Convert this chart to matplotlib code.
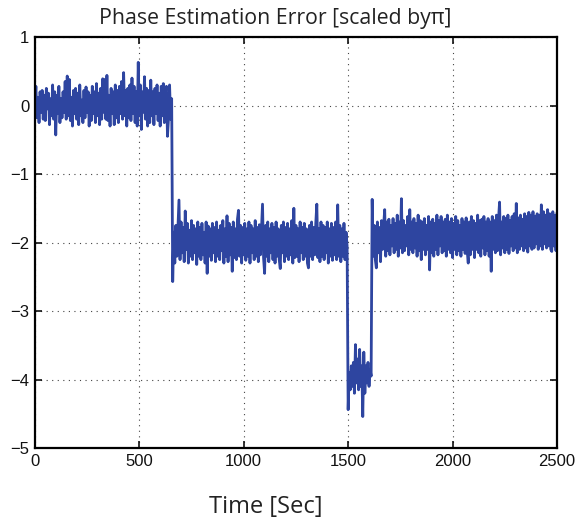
import numpy as np
import matplotlib
matplotlib.use('Agg')
import matplotlib.pyplot as plt

# phase error samples (every 5 sec)
seg_a = [0.05, 0.28, -0.18, 0.12, -0.25, 0.2, -0.1, 0.22, -0.2, 0.15,
         -0.22, 0.25, -0.05, 0.18, -0.28, 0.1, -0.15, 0.3, -0.2, 0.2,
         -0.43, 0.15, -0.12, 0.28, -0.25, 0.1, -0.18, 0.2, -0.1, 0.35,
         -0.2, 0.43, -0.15, 0.38, -0.22, 0.12, -0.3, 0.22, -0.12, 0.25,
         -0.2, 0.18, -0.28, 0.3, -0.15, 0.08, -0.25, 0.22, -0.18, 0.27,
         -0.1, 0.2, -0.3, 0.15, -0.22, 0.28, -0.12, 0.2, -0.25, 0.32,
         -0.15, 0.18, -0.28, 0.25, -0.2, 0.39, -0.1, 0.38, -0.2, 0.44,
         -0.22, 0.15, -0.3, 0.25, -0.12, 0.2, -0.28, 0.3, -0.18, 0.22,
         -0.25, 0.28, -0.12, 0.35, -0.2, 0.48, -0.15, 0.22, -0.3, 0.25,
         -0.18, 0.3, -0.22, 0.4, -0.12, 0.28, -0.25, 0.2, -0.3, 0.63,
         -0.15, 0.3, -0.35, 0.2, -0.1, 0.42, -0.2, 0.25, -0.3, 0.22,
         -0.25, 0.37, -0.15, 0.2, -0.28, 0.25, -0.12, 0.3, -0.22, 0.18,
         -0.3, 0.28, -0.15, 0.32, -0.25, 0.2, 0.28, -0.45, -0.18, 0.3, -0.2, 0.1]

seg_b = [-2.57, -1.85, -2.3, -1.75, -2.2, -1.8, -1.38, -2.25, -1.7, -2.15,
         -1.78, -2.28, -1.54, -2.1, -1.72, -2.3, -1.82, -2.2, -1.68, -2.25,
         -1.75, -2.15, -1.8, -2.32, -1.7, -2.2, -1.78, -2.25, -1.72, -2.18,
         -1.85, -2.3, -1.7, -2.45, -1.76, -2.2, -1.8, -2.26, -1.72, -2.15,
         -1.78, -2.28, -1.7, -2.2, -1.82, -2.25, -1.75, -2.12, -1.68, -2.3,
         -1.8, -2.2, -1.61, -2.28, -1.72, -2.18, -1.78, -2.42, -1.7, -2.22,
         -1.8, -2.25, -1.66, -1.53, -2.2, -1.75, -2.3, -1.78, -2.18, -1.72,
         -2.26, -1.8, -2.2, -1.7, -2.3, -1.75, -2.15, -1.8, -2.25, -1.68,
         -2.2, -1.78, -2.28, -1.74, -2.18, -1.8, -1.44, -2.22, -2.45, -1.75,
         -2.2, -1.7, -2.28, -1.8, -2.15, -1.72, -2.25, -1.78, -2.3, -1.7,
         -2.2, -1.8, -2.25, -2.38, -1.75, -2.15, -1.7, -2.28, -1.78, -2.2,
         -1.72, -2.25, -1.8, -2.18, -1.68, -2.3, -1.5, -2.22, -1.75, -2.2,
         -1.8, -2.28, -1.7, -2.15, -1.78, -2.25, -1.72, -2.2, -1.8, -2.3,
         -2.37, -1.75, -2.2, -1.7, -2.25, -1.78, -2.18, -1.72, -1.44, -2.22,
         -1.8, -2.28, -1.7, -2.2, -1.75, -2.25, -1.78, -2.15, -1.7, -2.3,
         -1.8, -2.2, -1.72, -2.26, -1.78, -2.18, -1.7, -2.25, -1.45, -2.2,
         -1.75, -2.28, -1.8, -2.2, -1.72, -2.25, -1.85, -2.05]

seg_c = [-4.44, -3.9, -4.15, -3.8, -4.1, -3.75, -4.2, -3.49, -4.05, -3.7,
         -4.15, -3.56, -4.1, -3.8, -4.54, -3.6, -4.2, -3.8, -4.05, -3.75,
         -4.1, -3.85, -3.95]

seg_d = [-1.37, -2.2, -1.75, -2.25, -2.37, -1.7, -2.15, -1.78, -2.28, -1.68,
         -2.1, -1.75, -1.52, -2.2, -1.7, -2.12, -1.66, -2.18, -1.75, -2.05,
         -1.65, -2.15, -1.72, -2.1, -1.6, -2.2, -1.7, -2.08, -1.36, -2.15,
         -1.68, -2.12, -1.75, -2.05, -1.62, -2.18, -1.52, -2.1, -1.7, -2.15,
         -1.65, -2.08, -1.72, -2.2, -1.6, -2.12, -1.68, -2.25, -1.7, -2.1,
         -1.65, -2.18, -1.75, -2.1, -1.62, -2.4, -1.7, -2.15, -1.66, -2.2,
         -1.72, -2.1, -1.6, -2.18, -1.68, -2.05, -1.62, -2.15, -1.7, -2.12,
         -1.66, -2.2, -1.6, -2.1, -1.7, -2.15, -1.65, -2.22, -1.72, -2.1,
         -1.62, -2.18, -1.68, -2.12, -1.75, -2.2, -1.65, -2.1, -1.7, -2.16,
         -1.64, -2.12, -2.3, -1.7, -2.18, -1.62, -2.1, -1.68, -2.22, -1.72,
         -2.1, -1.6, -2.15, -1.68, -2.2, -1.66, -2.08, -1.62, -2.18, -1.7,
         -2.12, -1.65, -2.2, -1.7, -2.42, -1.62, -2.1, -1.68, -2.15, -1.6,
         -2.12, -1.66, -1.41, -2.18, -1.7, -2.08, -1.62, -2.15, -1.65, -2.1,
         -1.6, -2.16, -1.68, -2.05, -1.62, -2.12, -1.58, -2.08, -1.43, -2.15,
         -1.64, -2.1, -1.6, -2.05, -1.66, -2.12, -1.58, -2.08, -1.62, -2.14,
         -1.56, -2.05, -1.6, -2.1, -1.55, -2.08, -1.62, -2.02, -1.58, -2.1,
         -1.6, -2.05, -1.45, -2.1, -1.55, -2.02, -1.6, -2.08, -1.52, -2.05,
         -1.58, -2.1, -2.13, -1.55, -2.05, -1.6, -2.12, -1.58]

err = np.array(seg_a + seg_b + seg_c + seg_d)
t = np.arange(len(err)) * 5

xticks = [0, 500, 1000, 1500, 2000, 2500]
yticks = [-5, -4, -3, -2, -1, 0, 1]

fig = plt.figure(figsize=(5.81, 5.21), dpi=100)
ax = fig.add_axes([0.060, 0.140, 0.8987, 0.789])

ax.plot(t, err, color='#2e45a0', lw=2.0)

ax.set_xlim(0, 2500)
ax.set_ylim(-5, 1)
ax.set_xticks(xticks)
ax.set_yticks(yticks)
ax.set_yticklabels([str(v).replace('-', '\u2212') for v in yticks])
ax.grid(True, color='#444444', linestyle=(0, (1, 4)), linewidth=0.8)
ax.tick_params(direction='in', top=True, right=True, length=5, width=1.2,
               labelsize=12, pad=4, colors='#111111')
for lab in ax.get_xticklabels() + ax.get_yticklabels():
    lab.set_fontfamily('Liberation Sans')
for s in ax.spines.values():
    s.set_linewidth(1.6)

# the original labels sit a little left of the axes centre
ax.set_title('Phase Estimation Error [scaled by\u03c0]', fontsize=15.3,
             family='Open Sans', color='#222222', pad=9, x=0.46)
ax.set_xlabel('Time [Sec]', fontsize=17, family='Open Sans', color='#222222',
              labelpad=18)
ax.xaxis.set_label_coords(0.4425, -0.113)

fig.savefig('out.png', dpi=100)
